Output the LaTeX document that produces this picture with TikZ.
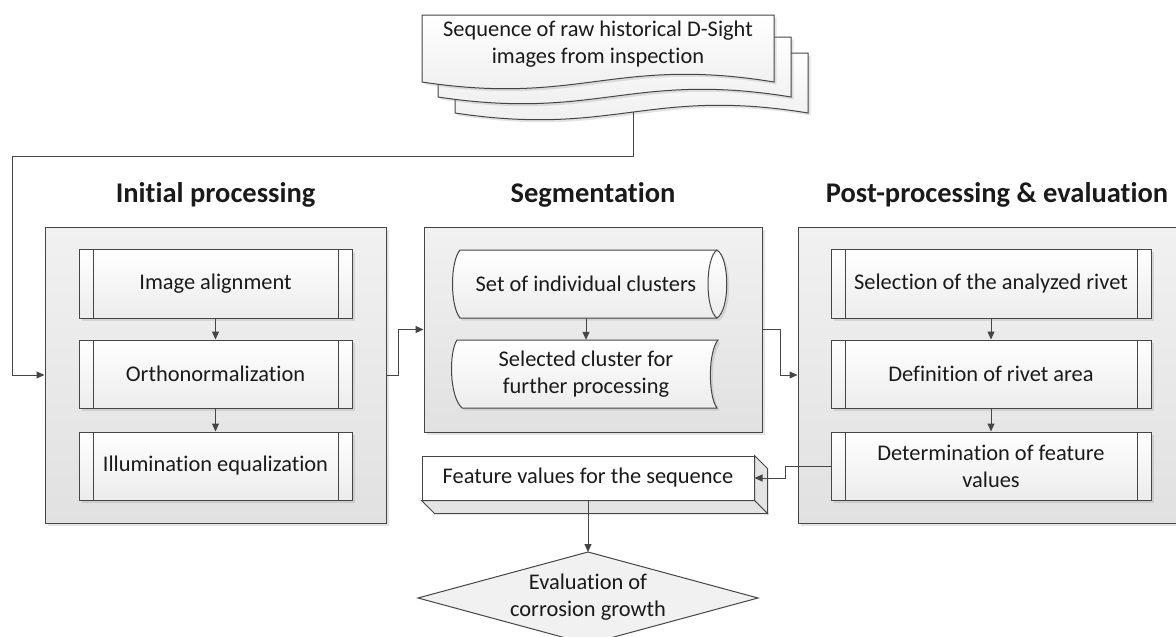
\documentclass[tikz,border=0pt]{standalone}
\usepackage{fontspec}
\setmainfont{Carlito}[Ligatures=NoCommon, Contextuals=NoAlternate, RawFeature={-liga;-clig;-dlig;-calt}]
\usetikzlibrary{shadows,arrows.meta,calc}
\definecolor{ln}{HTML}{454545}
\definecolor{txt}{HTML}{1A1A1A}
\definecolor{gA}{HTML}{F1F1F1}
\definecolor{gB}{HTML}{E1E1E1}
\definecolor{gC}{HTML}{ECECEC}
\definecolor{side}{HTML}{E4E4E4}
\tikzset{
  shad/.style={drop shadow={shadow xshift=2.5pt,shadow yshift=-2.5pt,opacity=0.22}},
  container/.style={draw=ln, line width=1pt, top color=gA, bottom color=gB, shad, inner sep=0pt},
  bodyfont/.style={font=\fontsize{22.4}{27}\selectfont, text=txt, align=center},
  procbox/.style={draw=ln, line width=1pt, top color=white, bottom color=gC, shad, inner sep=0pt,
    minimum height=68pt, bodyfont,
    path picture={
      \draw[ln,line width=1pt] ([xshift=14pt]path picture bounding box.north west) -- ([xshift=14pt]path picture bounding box.south west);
      \draw[ln,line width=1pt] ([xshift=-14pt]path picture bounding box.north east) -- ([xshift=-14pt]path picture bounding box.south east);
    }},
  shapefill/.style={draw=ln, line width=1pt, top color=white, bottom color=gC, shad},
  textonly/.style={bodyfont, inner sep=0pt},
  titletext/.style={font=\bfseries\fontsize{28.5}{32}\selectfont, text=txt},
  conn/.style={draw=ln, line width=1pt, -{Triangle[length=8pt,width=7pt]}},
}
\begin{document}
\begin{tikzpicture}[x=1pt,y=-1pt]
\useasboundingbox (0,0) rectangle (1176,637);

% document stack
\path[shapefill] (455,53) -- (808,53) -- (808,113) .. controls (649,87) and (614,137) .. (455,113) -- cycle;
\path[shapefill] (438,37) -- (791,37) -- (791,97) .. controls (632,71) and (597,121) .. (438,97) -- cycle;
\path[shapefill] (422,15) -- (774,15) -- (774,82) .. controls (615,56) and (580,106) .. (422,82) -- cycle;
\node[textonly] (doc) at (598,44) {Sequence of raw historical D-Sight\\images from inspection};
\coordinate (docout) at (633,112);
\coordinate (leftrail) at (12,156);

% titles
\node[titletext] (t1) at (215.5,195) {Initial processing};
\node[titletext] (t2) at (593,195) {Segmentation};
\node[titletext] (t3) at (997,195) {Post-processing \& evaluation};

% containers
\node[container, minimum width=341pt, minimum height=296pt] (init) at (215.5,375) {};
\node[container, minimum width=338pt, minimum height=205pt] (seg) at (593,329.5) {};
\node[container, minimum width=387pt, minimum height=296pt] (post) at (991.5,375) {};

% initial processing
\node[procbox, minimum width=273pt, minimum height=69pt] (ia) at (215.5,283.5) {Image alignment};
\node[procbox, minimum width=273pt] (ortho) at (215.5,374) {Orthonormalization};
\node[procbox, minimum width=273pt] (illum) at (215.5,466) {Illumination equalization};

% segmentation
\path[shapefill] (717,250) -- (460,250) .. controls (450,262) and (450,306) .. (460,318) -- (717,318)
   .. controls (730,310) and (730,258) .. (717,250) -- cycle;
\draw[ln, line width=1pt] (717,250) .. controls (705,258) and (705,310) .. (717,318);
\node[textonly, minimum width=260pt, minimum height=68pt] (set) at (586,284) {Set of individual clusters};
\path[shapefill] (457,340) -- (718,340) .. controls (708,352) and (708,396) .. (717,408) -- (462,408)
   .. controls (449,396) and (449,352) .. (457,340) -- cycle;
\node[textonly, minimum width=250pt, minimum height=68pt] (selc) at (586,374) {Selected cluster for\\further processing};

% post-processing
\node[procbox, minimum width=320pt, minimum height=69pt] (sel) at (991,283.5) {Selection of the analyzed rivet};
\node[procbox, minimum width=320pt] (def) at (991,374) {Definition of rivet area};
\node[procbox, minimum width=320pt] (det) at (991,466) {Determination of feature\\values};

% feature values 3D box
\node[draw=ln, line width=1pt, fill=white, bodyfont, inner sep=0pt, minimum width=332pt, minimum height=44pt] (feat) at (588,478) {Feature values for the sequence};
\path[draw=ln, line width=1pt, fill=side] (feat.north east) -- ([shift={(13,13)}]feat.north east) -- ([shift={(13,13)}]feat.south east) -- (feat.south east) -- cycle;
\path[draw=ln, line width=1pt, fill=side] (feat.south west) -- ([shift={(13,13)}]feat.south west) -- ([shift={(13,13)}]feat.south east) -- (feat.south east) -- cycle;

% decision
\path[draw=ln, line width=1pt, fill=gA] (588,552) -- (758,598) -- (588,644) -- (418,598) -- cycle;
\node[textonly] (eval) at (588,597) {Evaluation of\\corrosion growth};
\coordinate (evaltop) at (588,552);

% connectors
\draw[conn] (docout) |- (leftrail) |- (init.west);
\draw[conn] (ia.south) -- (ortho.north);
\draw[conn] (ortho.south) -- (illum.north);
\draw[conn] (init.east) -- ++(12,0) |- (seg.west);
\draw[conn] (set.south) -- (selc.north);
\draw[conn] (seg.east) -- ++(18,0) |- (post.west);
\draw[conn] (sel.south) -- (def.north);
\draw[conn] (def.south) -- (det.north);
\draw[conn] (det.west) -- ++(-45,0) |- (feat.east);
\draw[conn] (feat.south) -- (evaltop);
\end{tikzpicture}
\end{document}
